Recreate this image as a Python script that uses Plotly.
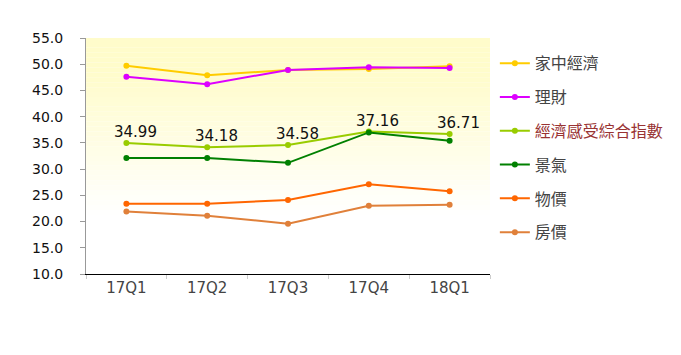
import plotly.graph_objects as go

quarters = ["17Q1", "17Q2", "17Q3", "17Q4", "18Q1"]
household = [49.7, 47.9, 48.9, 49.1, 49.6]
finance = [47.6, 46.2, 48.9, 49.4, 49.3]
composite = [34.99, 34.18, 34.58, 37.16, 36.71]
business = [32.1, 32.1, 31.2, 37.0, 35.4]
prices = [23.4, 23.4, 24.1, 27.1, 25.8]
housing = [21.9, 21.1, 19.6, 23.0, 23.2]
y_ticks = [10, 15, 20, 25, 30, 35, 40, 45, 50, 55]

series = [
    ("家中經濟", household, "#FFCC00"),
    ("理財", finance, "#DD00FF"),
    ("<span style='color:#993333'>經濟感受綜合指數</span>", composite, "#99CC00"),
    ("景氣", business, "#008000"),
    ("物價", prices, "#FF6600"),
    ("房價", housing, "#E0803A"),
]

fig = go.Figure()
for i, (name, vals, color) in enumerate(series):
    fig.add_trace(go.Scatter(
        x=quarters, y=vals, name=name, legendgroup=str(i),
        mode="lines+markers",
        line=dict(color=color, width=2),
        marker=dict(color=color, size=6),
        cliponaxis=False,
    ))

# data labels for the composite index
for q, v in zip(quarters, composite):
    fig.add_annotation(
        x=q, y=v, text=f"{v:.2f}", showarrow=False,
        xanchor="center", yanchor="middle", xshift=9, yshift=11,
        font=dict(size=15, color="#111111", family="DejaVu Sans, sans-serif"),
    )

# gradient background strips (paper coordinates)
shapes = []
n = 48
for k in range(n):
    y0 = k / n
    y1 = (k + 1) / n
    t = (k + 0.5) / n  # 0 bottom, 1 top
    f = max(0.0, min(1.0, (t - 0.25) / 0.6))
    g = int(round(255 - 3 * f))
    b = int(round(255 - 52 * f))
    shapes.append(dict(type="rect", xref="paper", yref="paper", x0=0, x1=1, y0=y0, y1=y1,
                       fillcolor=f"rgb(255,{g},{b})", line=dict(width=0), layer="below"))

fig.update_layout(
    width=673, height=347,
    margin=dict(l=78, r=181, t=30, b=81),
    paper_bgcolor="white",
    plot_bgcolor="rgba(0,0,0,0)",
    shapes=shapes,
    font=dict(family="DejaVu Sans, Noto Sans CJK TC, sans-serif", size=12, color="#333333"),
    showlegend=True,
    legend=dict(
        x=1.012, xanchor="left", y=0.965, yanchor="top",
        font=dict(family="Noto Sans CJK TC, sans-serif", size=16, color="#444444"),
        tracegroupgap=10, bgcolor="rgba(0,0,0,0)", itemwidth=30,
    ),
    xaxis=dict(
        type="category", range=[-0.5, 4.5],
        showline=True, linecolor="black", linewidth=1,
        ticks="outside", tickson="boundaries", ticklen=4, tickcolor="#cccccc",
        tickfont=dict(size=15, color="#444444", family="DejaVu Sans, sans-serif"),
        showgrid=False, zeroline=False,
    ),
    yaxis=dict(
        range=[10, 55], tickvals=y_ticks, tickformat=".1f",
        ticklabelposition="outside", ticklabelstandoff=14,
        showline=True, linecolor="#999999", linewidth=1,
        ticks="outside", ticklen=5, tickcolor="#999999",
        tickfont=dict(size=14, color="#111111", family="DejaVu Sans, sans-serif"),
        showgrid=False, zeroline=False,
    ),
)

fig.write_html("out.html")
